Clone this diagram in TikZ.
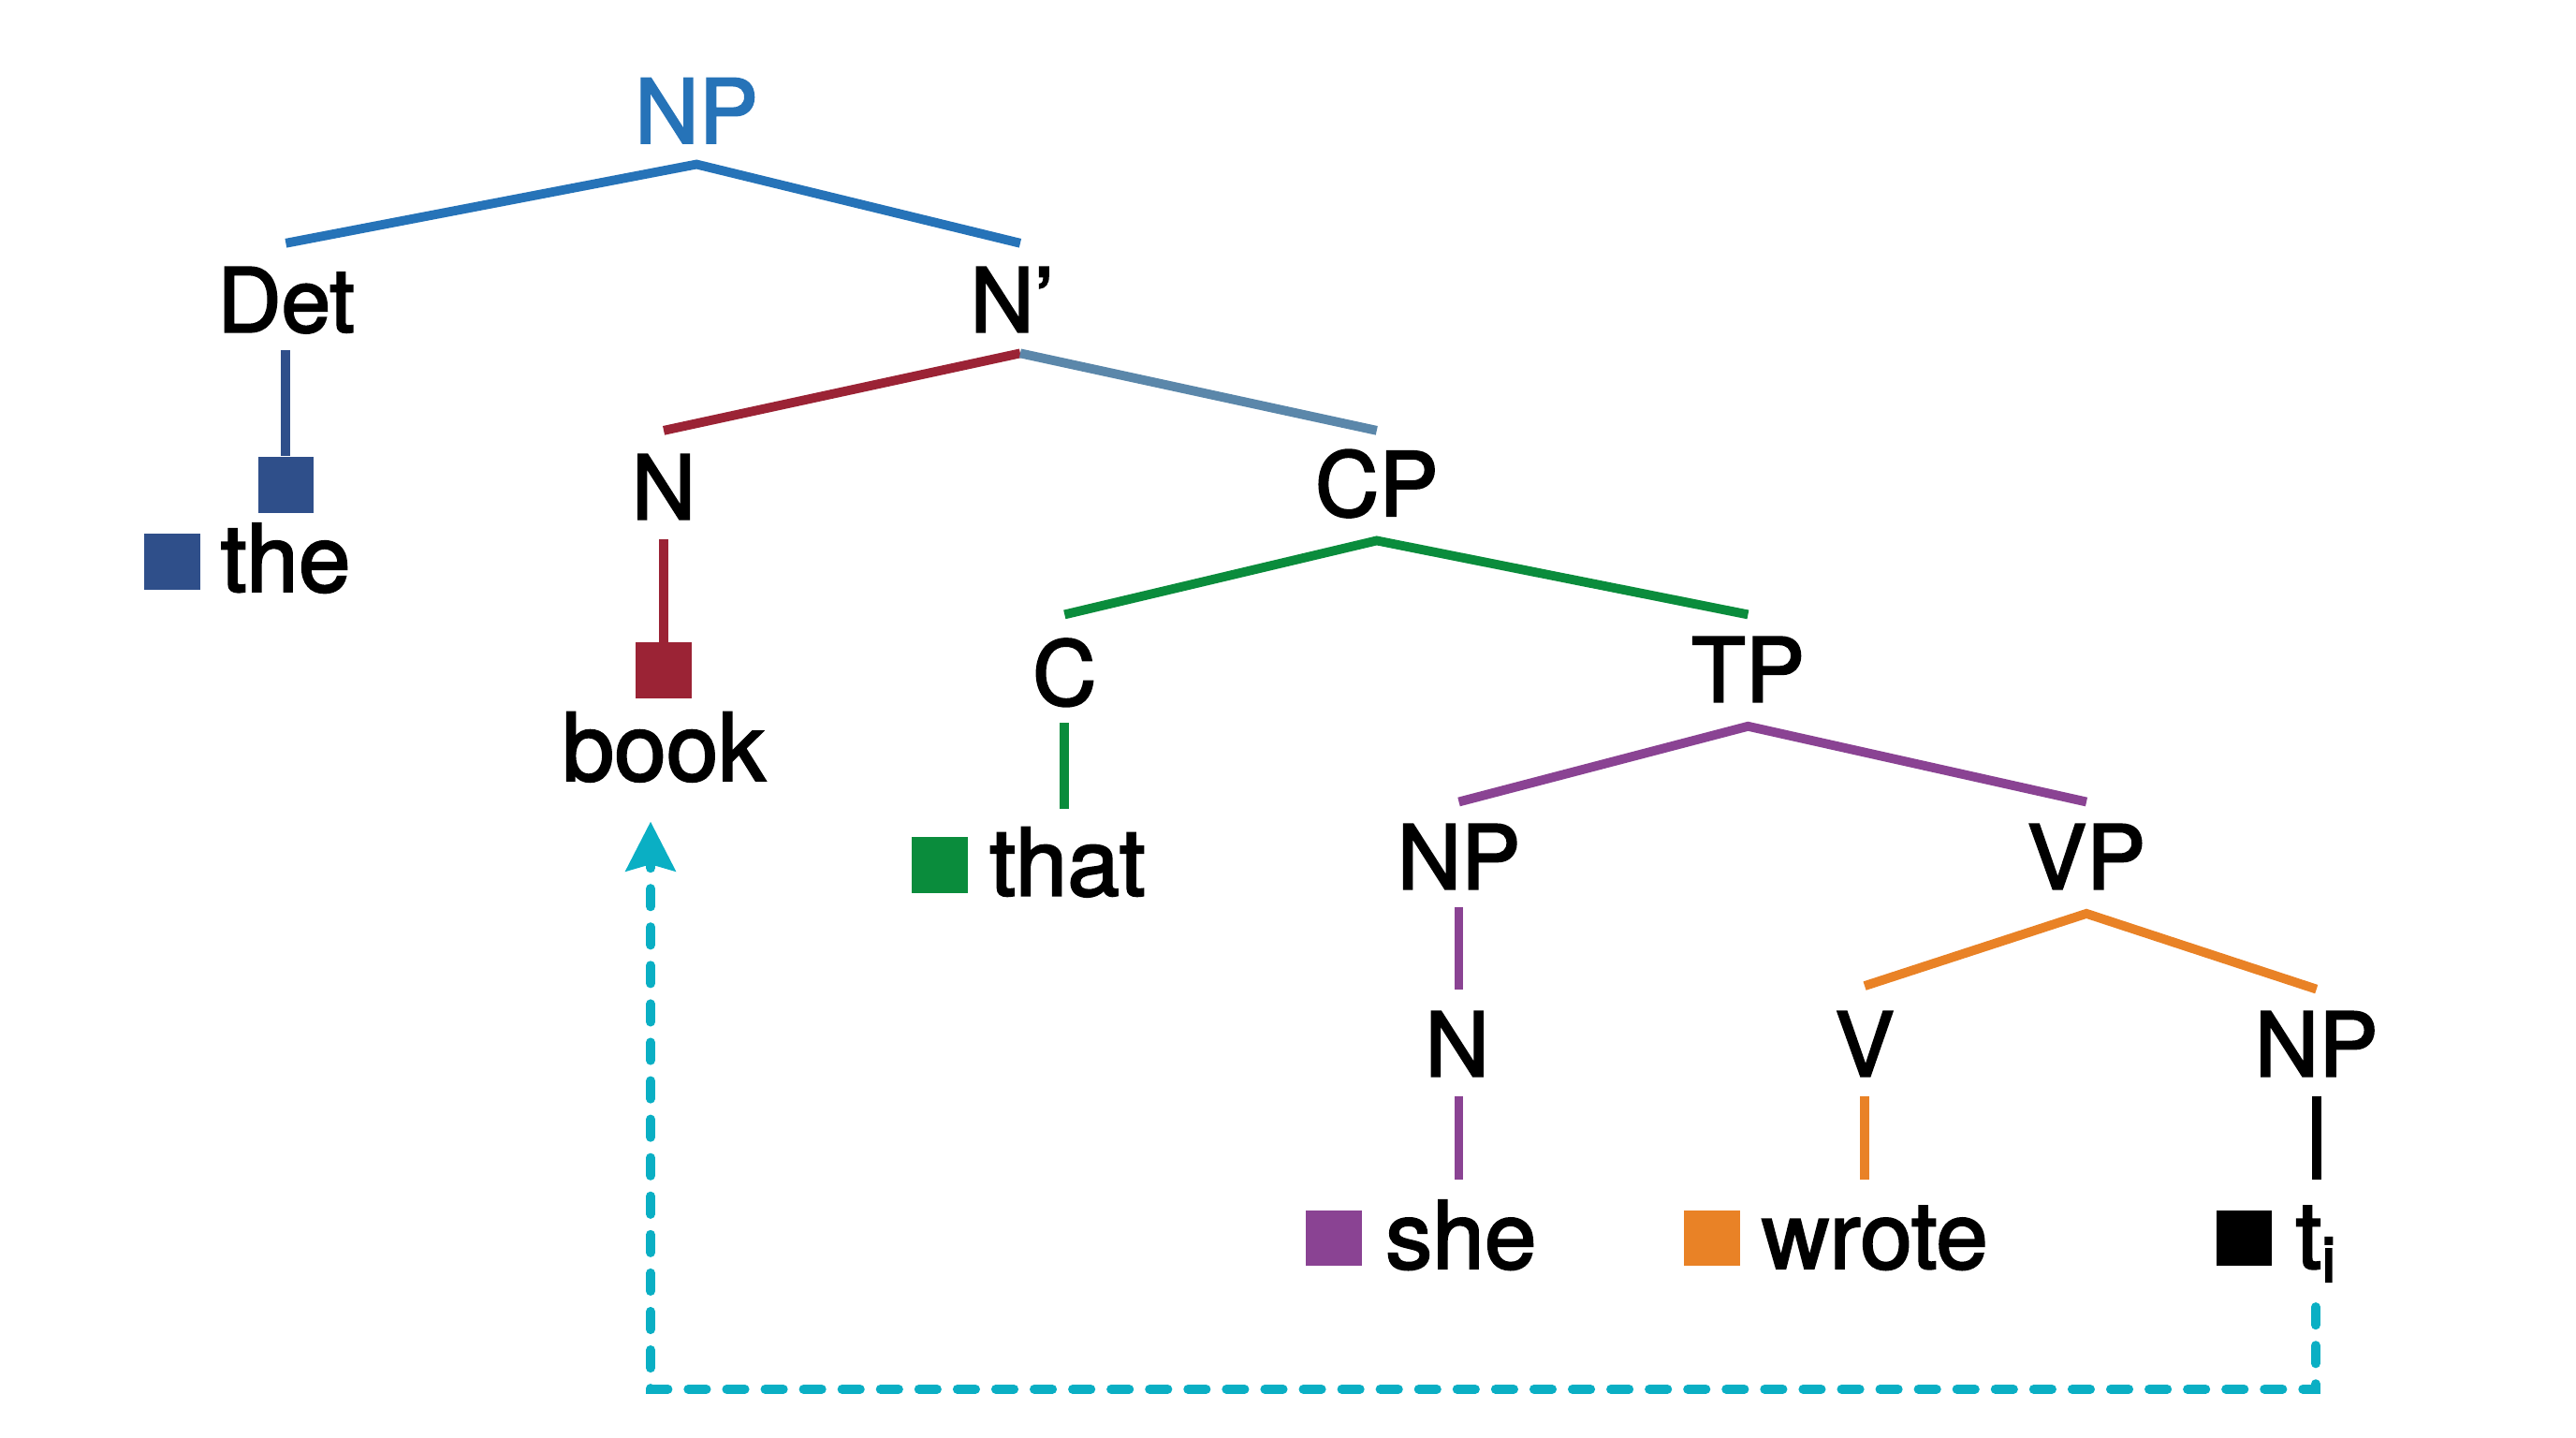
\documentclass[tikz,border=0pt]{standalone}
\usepackage{fontspec}
\setmainfont{TeX Gyre Heros}
\usetikzlibrary{calc,arrows.meta}
\newcommand\mylabfont{\fontsize{27}{30}\selectfont}
\newcommand\mywrdfont{\fontsize{28.5}{32}\selectfont}
\newcommand\heavyon{\special{pdf:literal direct 2 Tr 0.6 w}}
\newcommand\heavyoff{\special{pdf:literal direct 0 Tr}}
\definecolor{npblue}{HTML}{2673B8}
\definecolor{detblue}{HTML}{2F4F8A}
\definecolor{bookred}{HTML}{9B2335}
\definecolor{greyblue}{HTML}{5B87AA}
\definecolor{cgreen}{HTML}{0A8C3C}
\definecolor{tppurple}{HTML}{8A4393}
\definecolor{vporange}{HTML}{E98226}
\definecolor{movecyan}{HTML}{0AAFC4}
\tikzset{
  heavy/.style={execute at begin node=\heavyon, execute at end node=\heavyoff},
  lab/.style={font=\mylabfont, inner sep=0pt, anchor=base, heavy},
  wrd/.style={font=\mywrdfont, inner sep=0pt, anchor=base west, heavy},
  sq/.style={minimum size=17pt, inner sep=0pt, fill=#1},
  br/.style={line width=2.8pt, draw=#1},
  un/.style={line width=2.8pt, draw=#1},
  move/.style={draw=movecyan, line width=2.8pt, line cap=round, dash pattern=on 5.5pt off 6.2pt,
    -{Stealth[length=15pt,width=15pt,inset=2pt]}}
}
\begin{document}
\begin{tikzpicture}[x=0.5pt,y=-0.5pt]
\useasboundingbox (0,0) rectangle (1568,875);
% category labels
\node[lab,text=npblue] (np0) at (424,87) {NP};
\node[lab] (det) at (174,202) {Det};
\node[lab] (nbar) at (616,202) {N’};
\node[lab] (n1) at (404,316) {N};
\node[lab] (cp) at (838,314) {CP};
\node[lab] (c) at (648,429) {C};
\node[lab] (tp) at (1064,427) {TP};
\node[lab] (np1) at (888,541) {NP};
\node[lab] (vp) at (1270,541) {VP};
\node[lab] (n2) at (887,655) {N};
\node[lab] (v) at (1135,655) {V};
\node[lab] (np2) at (1410,655) {NP};
% words
\node[wrd] (the) at (134,360) {the};
\node[lab,font=\mywrdfont] (book) at (404,475) {book};
\node[wrd] (that) at (602,545) {that};
\node[wrd] (she) at (843,772) {she};
\node[wrd] (wrote) at (1072,772) {wrote};
\node[wrd] (tnode) at (1397,772) {t\raisebox{-4pt}{\fontsize{19}{19}\selectfont i}};
% squares
\node[sq=detblue] (sqdet) at (174,295) {};
\node[sq=detblue] (sqthe) at (105,342) {};
\node[sq=bookred] (sqbook) at (404,408) {};
\node[sq=cgreen] (sqthat) at (572,526.5) {};
\node[sq=tppurple] (sqshe) at (812,753.5) {};
\node[sq=vporange] (sqwrote) at (1042,753.5) {};
\node[sq=black] (sqt) at (1366,753.5) {};
% branches
\draw[br=npblue] ($(det.base)+(0,-54)$) -- ($(np0.base)+(0,13)$) -- ($(nbar.base)+(5,-54)$);
\draw[br=bookred] ($(n1.base)+(0,-54)$) -- ($(nbar.base)+(5,13)$);
\draw[br=greyblue] ($(nbar.base)+(5,13)$) -- ($(cp.base)+(0,-52)$);
\draw[br=cgreen] ($(c.base)+(0,-55)$) -- ($(cp.base)+(0,15)$) -- ($(tp.base)+(0,-53)$);
\draw[br=tppurple] ($(np1.base)+(0,-53)$) -- ($(tp.base)+(0,15)$) -- ($(vp.base)+(0,-53)$);
\draw[br=vporange] ($(v.base)+(0,-55)$) -- ($(vp.base)+(0,15)$) -- ($(np2.base)+(0,-53)$);
% unary lines
\draw[un=detblue] ($(det.base)+(0,11)$) -- (sqdet.north);
\draw[un=bookred] ($(n1.base)+(0,12)$) -- (sqbook.north);
\draw[un=cgreen] ($(c.base)+(0,11)$) -- ($(c.base)+(0,63)$);
\draw[un=tppurple] ($(np1.base)+(0,11)$) -- ($(np1.base)+(0,61)$);
\draw[un=tppurple] ($(n2.base)+(1,12)$) -- ($(n2.base)+(1,63)$);
\draw[un=vporange] ($(v.base)+(0,12)$) -- ($(v.base)+(0,63)$);
\draw[un=black] ($(np2.base)+(0,12)$) -- ($(np2.base)+(0,63)$);
% movement arrow
\draw[move] ($(tnode.south)+(0,15)$) -- ($(tnode.south)+(0,65)$) -| ($(book.base)+(-8,25)$);
\end{tikzpicture}
\end{document}
